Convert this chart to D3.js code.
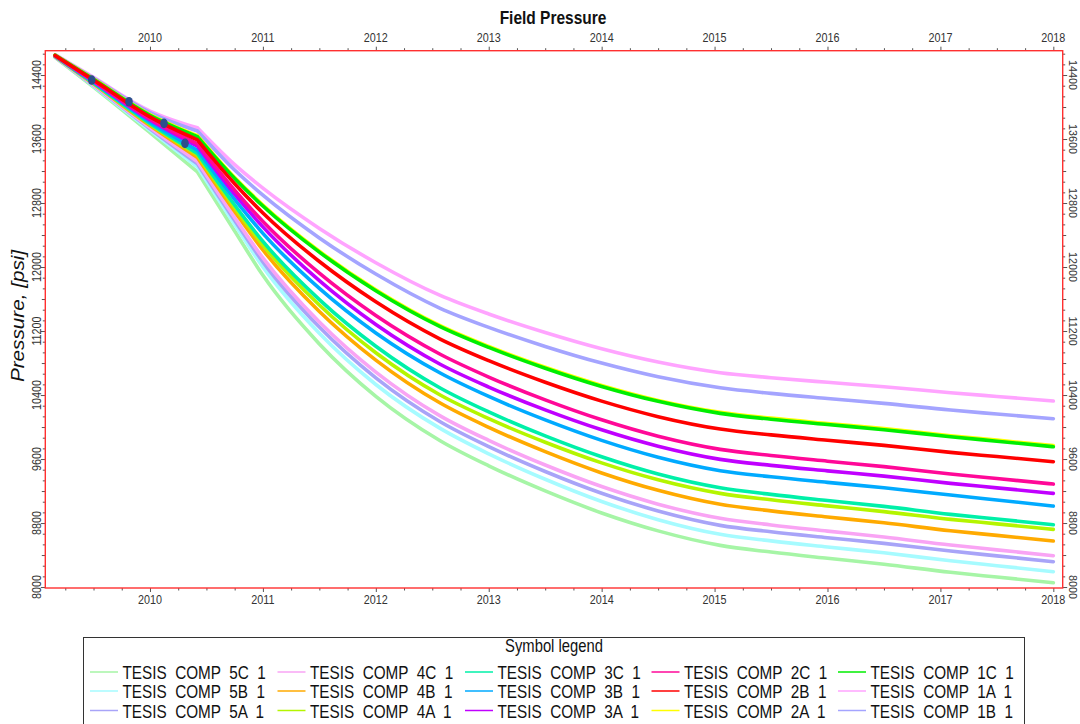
<!DOCTYPE html>
<html>
<head>
<meta charset="utf-8">
<script src="https://cdn.jsdelivr.net/npm/d3@7"></script>
<style>
  html, body { margin: 0; padding: 0; background: #fff; }
  svg { display: block; font-family: Arial, "Liberation Sans", sans-serif; }
</style>
</head>
<body>
<svg id="chart" width="1080" height="724"></svg>
<script>
// Simulated field pressure per completion, psi
const times = [2009.16, 2009.5, 2010.0, 2010.42, 2010.75, 2011.0, 2011.5, 2012.0, 2012.57, 2013.0,
               2013.5, 2014.0, 2014.5, 2015.05, 2015.5, 2016.0, 2016.5, 2017.09, 2017.5, 2018.0];
// Index of the production-change kink in the time axis
const kinkIndex = 3;

const p1A = [14655, 14370, 13950, 13740, 13279, 12986, 12483, 12054, 11645, 11413, 11181, 10978, 10812, 10679, 10617, 10559, 10504, 10429, 10382, 10325];
const p1B = [14652, 14361, 13930, 13700, 13212, 12898, 12364, 11912, 11484, 11246, 11007, 10799, 10628, 10491, 10421, 10357, 10296, 10212, 10163, 10104];
const p1C = [14648, 14346, 13896, 13630, 13107, 12763, 12186, 11704, 11255, 10995, 10735, 10507, 10321, 10171, 10098, 10031, 9967, 9879, 9823, 9754];
const p2A = [14650, 14352, 13906, 13642, 13119, 12775, 12198, 11716, 11267, 11007, 10747, 10520, 10333, 10184, 10111, 10044, 9980, 9892, 9836, 9768];
const p2B = [14645, 14337, 13876, 13590, 13042, 12676, 12069, 11566, 11100, 10830, 10560, 10324, 10130, 9975, 9902, 9835, 9771, 9683, 9631, 9567];
const p2C = [14642, 14326, 13852, 13540, 12961, 12570, 11923, 11394, 10910, 10625, 10339, 10090, 9885, 9721, 9644, 9573, 9505, 9412, 9356, 9287];
const p3A = [14640, 14320, 13837, 13510, 12910, 12502, 11829, 11281, 10785, 10500, 10214, 9965, 9760, 9596, 9521, 9452, 9386, 9296, 9240, 9171];
const p3B = [14637, 14309, 13813, 13460, 12847, 12421, 11733, 11176, 10675, 10382, 10089, 9833, 9622, 9454, 9378, 9308, 9241, 9150, 9088, 9012];
const p3C = [14635, 14300, 13793, 13420, 12775, 12320, 11593, 11010, 10488, 10189, 9889, 9628, 9413, 9241, 9158, 9081, 9008, 8908, 8850, 8779];
const p4A = [14633, 14296, 13783, 13400, 12740, 12275, 11525, 10928, 10400, 10105, 9810, 9552, 9341, 9171, 9090, 9015, 8943, 8846, 8790, 8721];
const p4B = [14631, 14289, 13768, 13370, 12695, 12213, 11445, 10837, 10300, 9996, 9692, 9426, 9209, 9034, 8952, 8876, 8803, 8704, 8646, 8575];
const p4C = [14628, 14278, 13744, 13320, 12620, 12115, 11313, 10687, 10140, 9833, 9525, 9256, 9036, 8859, 8776, 8699, 8625, 8525, 8465, 8392];
const p5A = [14626, 14272, 13729, 13290, 12581, 12065, 11249, 10614, 10066, 9755, 9444, 9172, 8950, 8771, 8691, 8617, 8546, 8450, 8390, 8317];
const p5B = [14624, 14263, 13709, 13250, 12531, 12002, 11172, 10532, 9983, 9665, 9347, 9069, 8842, 8659, 8577, 8501, 8428, 8329, 8267, 8192];
const p5C = [14620, 14250, 13680, 13190, 12451, 11896, 11039, 10384, 9829, 9515, 9201, 8926, 8702, 8521, 8437, 8359, 8285, 8184, 8125, 8054];

// Measured pressure points
const obsTimes = [2009.484, 2009.814, 2010.124, 2010.31];
const obsValues = [14337, 14066, 13796, 13546];

// Series: name, values, colour
const series = [
  { name: "TESIS  COMP  5C  1", values: p5C, color: "#a6f5a6" },
  { name: "TESIS  COMP  5B  1", values: p5B, color: "#a6fbff" },
  { name: "TESIS  COMP  5A  1", values: p5A, color: "#a8a4f8" },
  { name: "TESIS  COMP  4C  1", values: p4C, color: "#f9a4f4" },
  { name: "TESIS  COMP  4B  1", values: p4B, color: "#ffaa00" },
  { name: "TESIS  COMP  4A  1", values: p4A, color: "#b4f500" },
  { name: "TESIS  COMP  3C  1", values: p3C, color: "#00f0a8" },
  { name: "TESIS  COMP  3B  1", values: p3B, color: "#00aaff" },
  { name: "TESIS  COMP  3A  1", values: p3A, color: "#c000ff" },
  { name: "TESIS  COMP  2C  1", values: p2C, color: "#ff0898" },
  { name: "TESIS  COMP  2B  1", values: p2B, color: "#ff0000" },
  { name: "TESIS  COMP  2A  1", values: p2A, color: "#ffff00" },
  { name: "TESIS  COMP  1C  1", values: p1C, color: "#00ee00" },
  { name: "TESIS  COMP  1A  1", values: p1A, color: "#ffa4ff" },
  { name: "TESIS  COMP  1B  1", values: p1B, color: "#a4a4ff" }
];
// Legend grid: columns of three
const legendColumns = [
  ["TESIS  COMP  5C  1", "TESIS  COMP  5B  1", "TESIS  COMP  5A  1"],
  ["TESIS  COMP  4C  1", "TESIS  COMP  4B  1", "TESIS  COMP  4A  1"],
  ["TESIS  COMP  3C  1", "TESIS  COMP  3B  1", "TESIS  COMP  3A  1"],
  ["TESIS  COMP  2C  1", "TESIS  COMP  2B  1", "TESIS  COMP  2A  1"],
  ["TESIS  COMP  1C  1", "TESIS  COMP  1A  1", "TESIS  COMP  1B  1"]
];
// Drawing order (later on top)
const drawOrder = ["5C","5B","5A","4C","1A","1B","4B","4A","3C","3B","3A","2C","2A","1C","2B"];

const yearTicks = [2010, 2011, 2012, 2013, 2014, 2015, 2016, 2017, 2018];
const pressureTicks = [8000, 8800, 9600, 10400, 11200, 12000, 12800, 13600, 14400];

const svg = d3.select("#chart");
const plot = { left: 45.3, right: 1062.7, top: 50.7, bottom: 588 };
const TXT = 1.18; // glyph height stretch

const x = d3.scaleLinear().domain([2009.073, 2018.083]).range([plot.left, plot.right]);
const y = d3.scaleLinear().domain([7988, 14704]).range([plot.bottom, plot.top]);

// Tick sets
const quarterTicks = d3.range(2009.25, 2018.01, 0.25).filter(t => Math.abs(t - Math.round(t)) > 1e-6);
const minorP = d3.range(8000, 14700, 400 / 3).map(v => Math.round(v * 1000) / 1000)
  .filter(v => Math.abs(v / 800 - Math.round(v / 800)) > 1e-6);
const mediumP = d3.range(8400, 14700, 800);
const smallP = minorP.filter(v => !mediumP.some(m => Math.abs(m - v) < 1));

function tickAxis(axisFn, scale, values, size) {
  return axisFn(scale).tickValues(values).tickSize(size).tickFormat("");
}
function styleAxis(g) {
  g.select(".domain").remove();
  g.selectAll(".tick line").attr("stroke", "#555").attr("stroke-width", 1);
}

// Minor and major ticks on all four sides
const bottomG = svg.append("g").attr("transform", `translate(0,${plot.bottom})`);
bottomG.append("g").call(tickAxis(d3.axisBottom, x, quarterTicks, 2.5)).call(styleAxis);
bottomG.append("g").call(tickAxis(d3.axisBottom, x, yearTicks, 4)).call(styleAxis);
const topG = svg.append("g").attr("transform", `translate(0,${plot.top})`);
topG.append("g").call(tickAxis(d3.axisTop, x, quarterTicks, 2.5)).call(styleAxis);
topG.append("g").call(tickAxis(d3.axisTop, x, yearTicks, 4)).call(styleAxis);

const leftG = svg.append("g").attr("transform", `translate(${plot.left},0)`);
leftG.append("g").call(tickAxis(d3.axisLeft, y, smallP, 2.5)).call(styleAxis);
leftG.append("g").call(tickAxis(d3.axisLeft, y, mediumP, 3.5)).call(styleAxis);
leftG.append("g").call(tickAxis(d3.axisLeft, y, pressureTicks, 4.5)).call(styleAxis);
const rightG = svg.append("g").attr("transform", `translate(${plot.right},0)`);
rightG.append("g").call(tickAxis(d3.axisRight, y, smallP, 2.5)).call(styleAxis);
rightG.append("g").call(tickAxis(d3.axisRight, y, mediumP, 3.5)).call(styleAxis);
rightG.append("g").call(tickAxis(d3.axisRight, y, pressureTicks, 4.5)).call(styleAxis);

// Horizontal text with taller glyphs
function hText(parent, tx, ty, str, size, opts = {}) {
  return parent.append("text")
    .attr("transform", `translate(${tx},${ty}) scale(1,${opts.k || TXT})`)
    .attr("text-anchor", opts.anchor || "middle")
    .attr("font-size", size)
    .attr("font-weight", opts.weight || "normal")
    .attr("fill", opts.fill || "#222")
    .style("white-space", "pre")
    .attr("xml:space", "preserve")
    .text(str);
}
yearTicks.forEach(t => {
  hText(svg, x(t), 41.5, String(t), 10.8, { fill: "#333" });
  hText(svg, x(t), 604, String(t), 10.8, { fill: "#333" });
});
pressureTicks.forEach(v => {
  svg.append("text")
    .attr("transform", `translate(41,${y(v)}) rotate(-90) scale(1,1.2)`)
    .attr("text-anchor", "middle").attr("font-size", 10.8).attr("fill", "#333")
    .text(String(v));
  svg.append("text")
    .attr("transform", `translate(1068.5,${y(v)}) rotate(90) scale(1,1.05)`)
    .attr("text-anchor", "middle").attr("font-size", 10.8).attr("fill", "#333")
    .text(String(v));
});

// Titles
hText(svg, 553, 24, "Field Pressure", 15.5, { weight: "bold", fill: "#111" });
svg.append("text")
  .attr("transform", `translate(24,316) rotate(-90) scale(1.15,1)`)
  .attr("text-anchor", "middle").attr("font-size", 18).attr("font-style", "italic").attr("fill", "#111")
  .text("Pressure, [psi]");

// Lines: drawn as two smooth pieces joined at the kink so the corner stays sharp
svg.append("clipPath").attr("id", "plotclip").append("rect")
  .attr("x", plot.left).attr("y", plot.top)
  .attr("width", plot.right - plot.left).attr("height", plot.bottom - plot.top);

const line = d3.line()
  .x(d => x(d[0]))
  .y(d => y(d[1]))
  .curve(d3.curveMonotoneX);

const lineG = svg.append("g").attr("clip-path", "url(#plotclip)");
drawOrder.forEach(code => {
  const s = series.find(d => d.name.includes(" " + code + " "));
  const pts = s.values.map((v, i) => [times[i], v]);
  const pieces = [pts.slice(0, kinkIndex + 1), pts.slice(kinkIndex)];
  const d = pieces.map(p => line(p)).join("");
  lineG.append("path")
    .attr("fill", "none")
    .attr("stroke", s.color)
    .attr("stroke-width", 3.6)
    .attr("stroke-linejoin", "round")
    .attr("stroke-linecap", "round")
    .attr("d", d);
});

// Measured points
lineG.selectAll("ellipse.obs")
  .data(obsTimes)
  .join("ellipse")
  .attr("class", "obs")
  .attr("cx", d => x(d))
  .attr("cy", (d, i) => y(obsValues[i]))
  .attr("rx", 3.8).attr("ry", 4.8)
  .attr("fill", "#2c4f8c");

// Plot frame
svg.append("rect")
  .attr("x", plot.left).attr("y", plot.top)
  .attr("width", plot.right - plot.left).attr("height", plot.bottom - plot.top)
  .attr("fill", "none").attr("stroke", "#ff3030").attr("stroke-width", 1.4);

// Legend
const legend = svg.append("g");
legend.append("rect")
  .attr("x", 83.5).attr("y", 637.5).attr("width", 941).attr("height", 120)
  .attr("fill", "#fff").attr("stroke", "#333").attr("stroke-width", 1);
hText(legend, 554, 652, "Symbol legend", 14.8, { fill: "#111" });

const colX = [90, 277.5, 465, 651.5, 838];
const rowY = [672, 691, 710.5];
legendColumns.forEach((col, ci) => {
  col.forEach((name, ri) => {
    const s = series.find(d => d.name === name);
    legend.append("line")
      .attr("x1", colX[ci]).attr("x2", colX[ci] + 28)
      .attr("y1", rowY[ri]).attr("y2", rowY[ri])
      .attr("stroke", s.color).attr("stroke-width", 1.5);
    hText(legend, colX[ci] + 32.5, rowY[ri] + 7.3, name, 15.3, { anchor: "start", fill: "#111" });
  });
});
</script>
</body>
</html>
